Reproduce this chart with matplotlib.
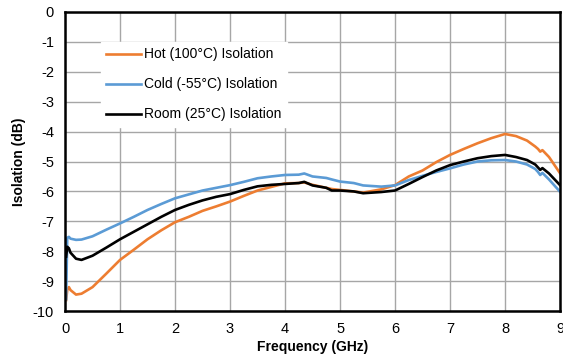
import matplotlib

matplotlib.use("Agg")
import matplotlib.pyplot as plt

# frequency (GHz) and isolation (dB)
FREQ = [0.02, 0.04, 0.07, 0.1, 0.2, 0.3, 0.5, 0.75, 1.0, 1.25, 1.5, 1.75,
        2.0, 2.25, 2.5, 2.75, 3.0, 3.25, 3.5, 3.75, 4.0, 4.25, 4.35, 4.5,
        4.75, 4.85, 5.0, 5.25, 5.42, 5.75, 6.0, 6.25, 6.5, 6.75, 7.0, 7.25,
        7.5, 7.75, 8.0, 8.2, 8.4, 8.55, 8.6, 8.64, 8.68, 8.8, 9.0]

HOT = [-9.63, -9.3, -9.2, -9.3, -9.45, -9.42, -9.2, -8.75, -8.29, -7.95,
       -7.6, -7.3, -7.03, -6.85, -6.65, -6.5, -6.34, -6.15, -5.97, -5.85,
       -5.73, -5.72, -5.7, -5.78, -5.88, -5.92, -5.95, -6.0, -6.04, -5.93,
       -5.79, -5.5, -5.3, -5.02, -4.78, -4.58, -4.39, -4.22, -4.08, -4.15,
       -4.3, -4.5, -4.58, -4.67, -4.62, -4.85, -5.39]

COLD = [-9.6, -7.55, -7.52, -7.58, -7.62, -7.61, -7.5, -7.28, -7.07, -6.85,
        -6.62, -6.42, -6.23, -6.1, -5.97, -5.88, -5.79, -5.68, -5.56, -5.5,
        -5.45, -5.44, -5.4, -5.5, -5.55, -5.6, -5.67, -5.72, -5.8, -5.84,
        -5.8, -5.62, -5.48, -5.35, -5.23, -5.1, -5.0, -4.96, -4.95, -5.0,
        -5.1, -5.25, -5.35, -5.45, -5.38, -5.6, -6.01]

ROOM = [-8.18, -7.85, -7.9, -8.05, -8.25, -8.29, -8.15, -7.88, -7.6, -7.35,
        -7.1, -6.85, -6.62, -6.45, -6.3, -6.18, -6.09, -5.95, -5.83, -5.78,
        -5.75, -5.72, -5.68, -5.8, -5.88, -5.97, -5.97, -6.0, -6.06, -6.02,
        -5.97, -5.75, -5.52, -5.3, -5.12, -5.0, -4.89, -4.82, -4.78, -4.85,
        -4.95, -5.1, -5.2, -5.28, -5.22, -5.4, -5.79]

SERIES = [
    ("Hot (100°C) Isolation", HOT, "#ED7D31"),
    ("Cold (-55°C) Isolation", COLD, "#5B9BD5"),
    ("Room (25°C) Isolation", ROOM, "#000000"),
]

plt.rcParams["font.family"] = ["Liberation Sans", "DejaVu Sans"]
plt.rcParams["axes.unicode_minus"] = False

fig = plt.figure(figsize=(5.63, 3.6), dpi=100)
ax = fig.add_axes([0.1155, 0.136, 0.8792, 0.8307])

for label, vals, color in SERIES:
    ax.plot(FREQ, vals, color=color, linewidth=1.9, label=label)

ax.set_xlim(0, 9)
ax.set_ylim(-10, 0)
ax.set_xticks(range(0, 10))
ax.set_yticks(range(-10, 1))
ax.grid(color="#a6a6a6", linewidth=1.0)
ax.set_axisbelow(True)
ax.tick_params(length=0, labelsize=10.5, pad=8)
for sp in ax.spines.values():
    sp.set_color("black")
    sp.set_linewidth(1.8)

ax.set_xlabel("Frequency (GHz)", fontsize=10, fontweight="bold", labelpad=3)
ax.set_ylabel("Isolation (dB)", fontsize=10, fontweight="bold", labelpad=5)

leg = ax.legend(loc="upper left", bbox_to_anchor=(0.072, 0.9), fontsize=10,
                frameon=True, framealpha=1, edgecolor="white", fancybox=False,
                handlelength=2.5, handletextpad=0.25, labelspacing=1.15,
                borderaxespad=0)

fig.savefig("out.png", dpi=100)
